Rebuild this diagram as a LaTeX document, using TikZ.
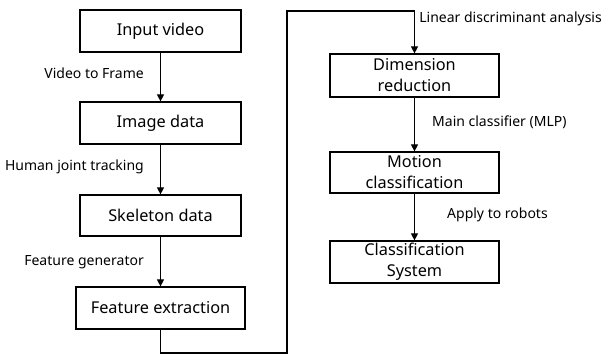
\documentclass[tikz,border=0pt]{standalone}
\usepackage{fontspec}
\setmainfont{Noto Sans}
\usetikzlibrary{arrows.meta}
\begin{document}
\begin{tikzpicture}[x=1pt,y=-1pt,
  box/.style={draw,line width=1.2pt,inner sep=0pt,font=\fontsize{16.3}{21}\selectfont,align=center},
  lab/.style={font=\fontsize{14}{16}\selectfont,inner sep=0pt},
  arr/.style={line width=1.1pt,-{Triangle[width=7pt,length=7pt]}},
  ln/.style={line width=1.1pt}]
\useasboundingbox (0,0) rectangle (604,355);
\node[box,minimum width=161pt,minimum height=42pt] (in) at (160.5,31) {Input video};
\node[box,minimum width=161pt,minimum height=42pt] (img) at (160.5,123) {Image data};
\node[box,minimum width=161pt,minimum height=41pt] (sk) at (160.5,215.5) {Skeleton data};
\node[box,minimum width=169pt,minimum height=42pt] (fe) at (160.5,308) {Feature extraction};
\node[box,minimum width=169pt,minimum height=43pt] (dr) at (414.5,75.5) {Dimension\\reduction};
\node[box,minimum width=169pt,minimum height=41pt] (mc) at (414.5,172.5) {Motion\\classification};
\node[box,minimum width=169pt,minimum height=42pt] (cs) at (414.5,262) {Classification\\System};
\coordinate (b1) at (160.5,353);
\coordinate (b2) at (287,353);
\coordinate (b3) at (287,11);
\coordinate (b4) at (414.5,11);
\draw[arr] (in) -- (img);
\draw[arr] (img) -- (sk);
\draw[arr] (sk) -- (fe);
\draw[arr] (fe.south) -- (b1) -- (b2) -- (b3) -- (b4) -- (dr.north);
\draw[arr] (dr) -- (mc);
\draw[arr] (mc) -- (cs);
\node[lab,anchor=east] (l1) at (144,73) {Video to Frame};
\node[lab,anchor=east] (l2) at (144,167) {Human joint tracking};
\node[lab,anchor=east] (l3) at (144,262) {Feature generator};
\node[lab,anchor=east] (l4) at (602,19) {Linear discriminant analysis};
\node[lab,anchor=west] (l5) at (432,122) {Main classifier (MLP)};
\node[lab,anchor=west] (l6) at (447,215) {Apply to robots};
\end{tikzpicture}
\end{document}
